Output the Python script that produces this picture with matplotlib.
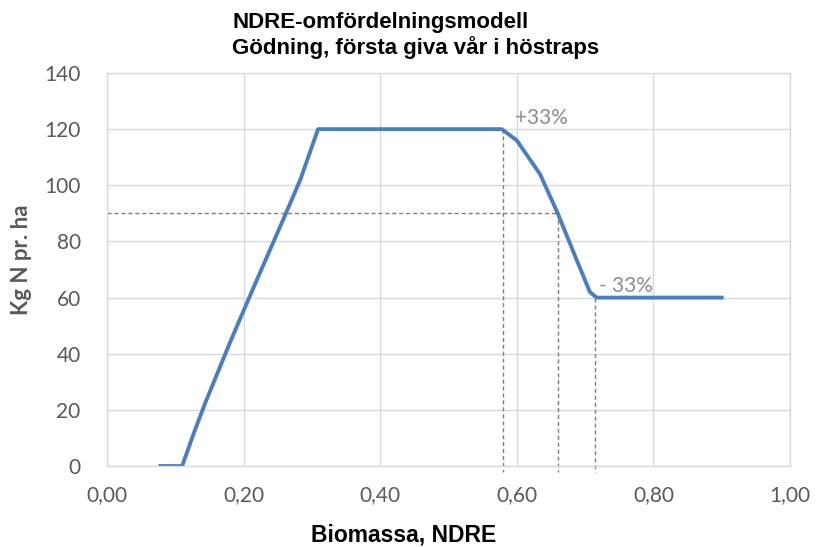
import matplotlib.pyplot as plt

# Modellkurva, lästa från bilden
ndre = [0.078, 0.11, 0.126, 0.143, 0.18, 0.217, 0.253, 0.283, 0.309,
        0.578, 0.60, 0.634, 0.66, 0.685, 0.707, 0.717, 0.90]
kg_n = [0, 0, 11, 22, 44, 65, 85, 102, 120,
        120, 116, 104, 90, 75, 62, 60, 60]

# Hjälplinjer
ref_x = [0.58, 0.66, 0.715]
ref_y = [120, 90, 60]
mid_y = 90

xticks = [0.0, 0.2, 0.4, 0.6, 0.8, 1.0]
xlabels = ["0,00", "0,20", "0,40", "0,60", "0,80", "1,00"]
yticks = [0, 20, 40, 60, 80, 100, 120, 140]

fig = plt.figure(figsize=(8.24, 5.47), dpi=100)
ax = fig.add_axes([0.1299, 0.148, 0.8288, 0.7185])

grid_c = "#d9d9d9"
dash_c = "#7f7f7f"
lato = ["Lato", "DejaVu Sans"]
arial = ["Liberation Sans", "DejaVu Sans"]

ax.set_xlim(0, 1)
ax.set_ylim(0, 140)
ax.set_xticks(xticks)
ax.set_xticklabels(xlabels)
ax.set_yticks(yticks)
ax.grid(True, color=grid_c, lw=1)
ax.set_axisbelow(True)
for s in ax.spines.values():
    s.set_color(grid_c)
    s.set_linewidth(1)
ax.tick_params(length=0, labelsize=15, labelcolor="#595959")
ax.tick_params(axis="x", pad=14)
ax.tick_params(axis="y", pad=19)
for lab in ax.get_xticklabels() + ax.get_yticklabels():
    lab.set_family(lato)

# streckade linjer
ax.plot([0, 0.66], [mid_y, mid_y], color=dash_c, lw=1, ls=(0, (3, 2)), clip_on=False)
for xv, yv in zip(ref_x, ref_y):
    ax.plot([xv, xv], [yv, -2], color=dash_c, lw=1, ls=(0, (3, 2)), clip_on=False)

ax.plot(ndre, kg_n, color="#4a7ebf", lw=2.8, solid_joinstyle="round")

ax.text(0.597, 122, "+33%", color="#8c8c8c", fontsize=15, family=lato)
ax.text(0.72, 62, "- 33%", color="#8c8c8c", fontsize=15, family=lato)

fig.text(0.282, 0.978, "NDRE-omfördelningsmodell\nGödning, första giva vår i höstraps",
         fontsize=16, fontweight="bold", family=arial,
         va="top", ha="left", multialignment="left", linespacing=1.15)
fig.text(0.49, 0.022, "Biomassa, NDRE", fontsize=16.5, fontweight="bold",
         family=arial, ha="center", va="center")
fig.text(0.026, 0.525, "Kg N pr. ha", fontsize=16, fontweight="bold", color="#595959",
         family=lato, rotation=90, ha="center", va="center")

fig.savefig("out.png", dpi=100)
